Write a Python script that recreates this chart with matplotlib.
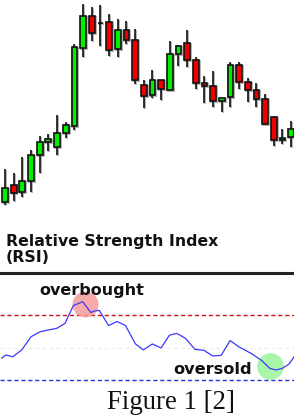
import matplotlib
matplotlib.use("Agg")
import matplotlib.pyplot as plt
import numpy as np

# ---- candle data (price units) ----
opens  = [8, 25, 18, 29, 55, 68, 63, 77, 84, 162, 194, 187, 188, 161, 180, 170, 125,
          115, 130, 120, 156, 167, 150, 127, 124, 109, 113, 145, 128, 120, 111, 93, 70, 73]
closes = [22, 17, 29, 55, 68, 71, 77, 85, 163, 194, 177, 187, 160, 180, 170, 130, 114,
          130, 121, 156, 164, 150, 127, 124, 109, 112, 145, 128, 120, 111, 86, 70, 72, 81]
highs  = [41, 37, 53, 60, 74, 76, 95, 88, 166, 206, 203, 205, 196, 191, 189, 181, 130,
          140, 130, 169, 165, 180, 153, 134, 139, 112, 148, 148, 132, 127, 116, 94, 81, 89]
lows   = [5, 9, 13, 18, 37, 59, 55, 72, 80, 153, 169, 164, 154, 153, 166, 126, 102,
          112, 110, 120, 144, 143, 121, 107, 103, 98, 103, 121, 108, 103, 86, 64, 66, 63]

# ---- RSI data ----
rsi_x = [-0.38, 0.12, 0.89, 1.93, 3.0, 4.04, 5.0, 5.96, 6.92, 7.88, 8.96, 9.9, 10.38,
         10.88, 11.94, 12.92, 13.9, 15.03, 15.95, 17.0, 18.0, 18.97, 19.8, 20.8, 21.9,
         22.95, 23.97, 24.94, 25.95, 26.95, 28.37, 29.58, 30.56, 31.26, 31.95, 32.76, 33.33]
rsi_v = [43.5, 45.4, 44.3, 48.5, 56.6, 59.7, 60.8, 61.8, 64.8, 75.8, 78.2, 71.5, 72.6,
         72.8, 63.5, 66.0, 63.5, 52.3, 48.5, 52.2, 49.7, 57.6, 58.7, 55.7, 48.9,
         48.2, 44.8, 45.2, 54.3, 50.5, 46.4, 42.1, 37.1, 36.2, 37.1, 39.8, 44.2]
overbought_level = 70
oversold_level = 30
mid_level = 50
ob_mark = (9.19, 76.5)
os_mark = (30.56, 38.6)

W, H = 294, 416
fig = plt.figure(figsize=(W / 100, H / 100), dpi=100)
fig.patch.set_facecolor("white")

def px_axes(top, bottom):
    return fig.add_axes([0, 1 - bottom / H, 1, (bottom - top) / H])

xlim = (-0.577, 33.33)

# ---- candlestick panel ----
ax1 = px_axes(0, 210)
ax1.set_xlim(*xlim)
ax1.set_ylim(0, 210)
ax1.axis("off")
x = np.arange(len(opens))
o = np.array(opens, float)
c = np.array(closes, float)
hi = np.array(highs, float)
lo = np.array(lows, float)
colors = []
for oo, cc in zip(o, c):
    if cc > oo:
        colors.append("#00ee00")
    elif cc < oo:
        colors.append("#ee0000")
    else:
        colors.append("black")
# soft gray shadows
sh = 0.1
ax1.vlines(x + sh, lo - 0.8, hi - 0.8, color="#b4b4b4", lw=1.4, zorder=1)
ax1.bar(x + sh, np.abs(c - o), bottom=np.minimum(o, c) - 0.8, width=0.68,
        color="#b4b4b4", edgecolor="#b4b4b4", lw=1.4, zorder=1)
ax1.vlines(x, lo, hi, color="#111111", lw=1.2, zorder=2)
ax1.bar(x, np.abs(c - o), bottom=np.minimum(o, c), width=0.66,
        color=colors, edgecolor="#111111", lw=1.2, zorder=3)

# ---- titles ----
fig.text(6 / W, 1 - 245.7 / H, "Relative Strength Index", fontsize=11.3,
         fontweight="bold", family="DejaVu Sans", va="baseline", ha="left", color="#111111")
fig.text(6 / W, 1 - 262.5 / H, "(RSI)", fontsize=11.3,
         fontweight="bold", family="DejaVu Sans", va="baseline", ha="left", color="#111111")

# ---- RSI panel ----
ax2 = px_axes(273, 390)
ax2.set_xlim(*xlim)
ax2.set_ylim(23.85, 95.85)
for s in ["left", "right", "bottom"]:
    ax2.spines[s].set_visible(False)
ax2.spines["top"].set_linewidth(2.2)
ax2.spines["top"].set_color("#222222")
ax2.set_xticks([])
ax2.set_yticks([])
ax2.patch.set_alpha(0)

ax2.axhline(overbought_level, color="#cc1111", ls=(0, (3, 2)), lw=1.0)
ax2.axhline(oversold_level, color="#2233dd", ls=(0, (3, 2)), lw=1.0)
ax2.axhline(mid_level, color="#eeeeee", ls=(0, (3, 2)), lw=1.0)

ax2.scatter([ob_mark[0]], [ob_mark[1]], s=350, color="#f49a9a", alpha=0.85, lw=0, zorder=2)
ax2.scatter([os_mark[0]], [os_mark[1]], s=370, color="#9af59a", alpha=0.85, lw=0, zorder=2)
ax2.plot(rsi_x, rsi_v, color="#3a3aff", lw=0.9, zorder=3)

ax2.text(9.98, 82.3, "overbought", fontsize=11.5, fontweight="bold",
         family="DejaVu Sans", ha="center", va="baseline", color="#111111", zorder=4)
ax2.text(23.97, 33.7, "oversold", fontsize=11.6, fontweight="bold",
         family="DejaVu Sans", ha="center", va="baseline", color="#111111", zorder=4)

fig.text(171 / W, 1 - 409 / H, "Figure 1 [2]", fontsize=19.3, family="Liberation Serif",
         ha="center", va="baseline", color="#111111")

fig.savefig("out.png", dpi=100, facecolor="white")
